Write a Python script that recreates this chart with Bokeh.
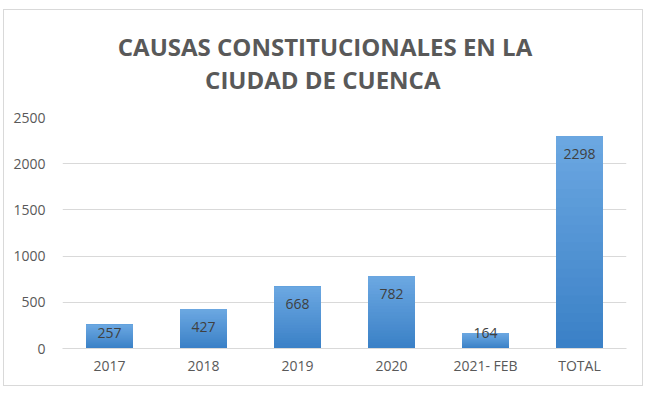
from bokeh.plotting import figure
from bokeh.models import Range1d, FactorRange, FixedTicker, ColumnDataSource, Title
from bokeh.core.properties import value
from bokeh.embed import file_html
from bokeh.resources import INLINE

categories = ["2017", "2018", "2019", "2020", "2021- FEB", "TOTAL"]
counts = [257, 427, 668, 782, 164, 2298]
y_ticks = [0, 500, 1000, 1500, 2000, 2500]
title_lines = ["CAUSAS CONSTITUCIONALES EN LA", "CIUDAD DE CUENCA"]

FONT = "Open Sans"
GRAY = "#595959"

p = figure(width=640, height=377, x_range=FactorRange(*categories),
           y_range=Range1d(0, 2500), output_backend="svg", toolbar_location=None,
           min_border_left=58, min_border_right=18, min_border_top=104, min_border_bottom=39)
p.styles = {"border": "1px solid #d9d9d9", "margin-left": "3px", "margin-top": "9px"}
p.outline_line_color = None
p.background_fill_color = "white"
p.border_fill_color = "white"

# gradient bars (light top, darker bottom) built from overlapping slices
n = 24
top_c = (0x6c, 0xa8, 0xe2)
bot_c = (0x3a, 0x80, 0xc6)
for k in range(n):
    t = (k + 0.5) / n
    col = "#%02x%02x%02x" % tuple(int(round(b + (a - b) * t)) for a, b in zip(top_c, bot_c))
    src = ColumnDataSource(dict(x=categories,
                                bottom=[v * k / n for v in counts],
                                top=counts))
    p.vbar(x="x", bottom="bottom", top="top", width=0.5, source=src,
           fill_color=col, line_color=None)

# value labels, inside end
lab_y = [max(v - 190, 170) for v in counts]
p.text(x=categories, y=lab_y, text=[str(v) for v in counts],
       text_font=value(FONT), text_font_size="14px", text_color="#404040",
       text_align="center", text_baseline="middle")

p.yaxis.ticker = FixedTicker(ticks=y_ticks)
p.yaxis.axis_line_color = None
p.yaxis.major_tick_line_color = None
p.yaxis.minor_tick_line_color = None
p.yaxis.major_label_text_font = FONT
p.yaxis.major_label_text_font_size = "14px"
p.yaxis.major_label_text_color = GRAY
p.yaxis.major_label_standoff = 11

p.xaxis.axis_line_color = "#d9d9d9"
p.xaxis.major_tick_line_color = None
p.xaxis.major_label_text_font = FONT
p.xaxis.major_label_text_font_size = "14px"
p.xaxis.major_label_text_color = GRAY
p.xaxis.major_label_standoff = 1

p.xgrid.grid_line_color = None
p.ygrid.grid_line_color = "#d9d9d9"
p.ygrid.grid_line_width = 1

# two-line title centred on the whole chart: right padding shifts the block left of
# the frame centre, non-breaking spaces centre the shorter second line under the first
title_text = title_lines[0] + "\n" + "\u00a0" * 14 + title_lines[1]
p.add_layout(Title(text=title_text, align="center", vertical_align="top", standoff=39,
                   padding=dict(left=0, right=39, top=0, bottom=0),
                   text_line_height=1.0,
                   text_font=FONT, text_font_size="24px", text_font_style="bold",
                   text_color=GRAY), "above")

open("out.html", "w").write(file_html(p, INLINE))
